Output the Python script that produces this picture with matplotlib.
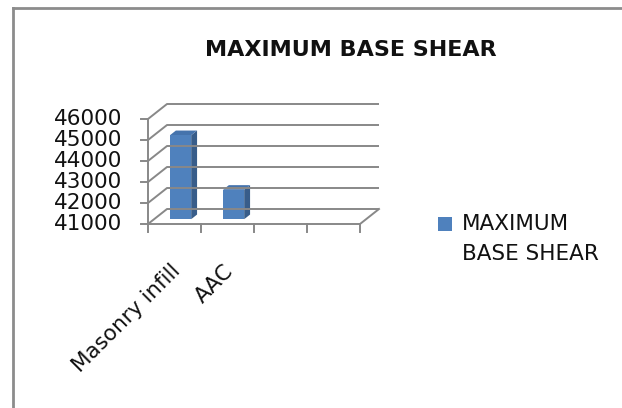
import matplotlib
matplotlib.use("Agg")
import matplotlib.pyplot as plt
from matplotlib.patches import Polygon, Rectangle
from matplotlib.lines import Line2D
import matplotlib.transforms as mtransforms

plt.rcParams['font.family'] = ['DejaVu Sans']

# chart data
categories = ["Masonry infill", "AAC"]
values = [45000, 42400]
series_name = "MAXIMUM BASE SHEAR"
y_ticks = [41000, 42000, 43000, 44000, 45000, 46000]
n_slots = 4

# colours
front_col = '#4F81BD'
side_col = '#385D8A'
top_col = '#4573AC'
grid_col = '#888888'
text_col = '#111111'

W, H = 622, 408
fig = plt.figure(figsize=(W / 100, H / 100), dpi=100)

# outer frame (left and top edges)
fig.add_artist(Line2D([13 / W, 13 / W], [0, 1 - 8 / H], color='#8c8c8c', lw=2))
fig.add_artist(Line2D([13 / W, 1], [1 - 8 / H, 1 - 8 / H], color='#8c8c8c', lw=2))

ax = fig.add_axes([148 / W, (H - 224) / H, 212 / W, 105 / H])
ax.set_xlim(-0.5, n_slots - 0.5)
ax.set_ylim(y_ticks[0], y_ticks[-1])
ax.axis('off')

# depth of the 3d box, in pixels, converted to data units
px_x = ax.bbox.width / (n_slots)
px_y = ax.bbox.height / (y_ticks[-1] - y_ticks[0])
DX = 19 / px_x
DY = 15 / px_y

x0, x1 = -0.5, n_slots - 0.5
lw = 1.4
# side and back wall gridlines
for t in y_ticks:
    ax.plot([x0, x0 + DX, x1 + DX], [t, t + DY, t + DY], color=grid_col, lw=lw,
            clip_on=False, solid_capstyle='butt')
# floor right edge
ax.plot([x1 + DX, x1], [y_ticks[0] + DY, y_ticks[0]], color=grid_col, lw=lw, clip_on=False)
# front axes
ax.plot([x0, x0], [y_ticks[0], y_ticks[-1]], color=grid_col, lw=lw, clip_on=False)
ax.plot([x0, x1], [y_ticks[0], y_ticks[0]], color=grid_col, lw=lw, clip_on=False)

# tick marks and labels
tick_x = 7 / px_x
tick_y = 8 / px_y
for t in y_ticks:
    ax.plot([x0 - tick_x, x0], [t, t], color=grid_col, lw=lw, clip_on=False)
    ax.text(x0 - 26 / px_x, t, f"{t}", ha='right', va='center', fontsize=15.5,
            color=text_col)
for k in range(n_slots + 1):
    xb = x0 + k
    ax.plot([xb, xb], [y_ticks[0] - tick_y, y_ticks[0]], color=grid_col, lw=lw, clip_on=False)

lab_off = mtransforms.ScaledTranslation(3 / 100, -44 / 100, fig.dpi_scale_trans)
for i, name in enumerate(categories):
    ax.text(i, y_ticks[0], name, rotation=45, ha='right', va='center',
            rotation_mode='anchor', fontsize=15.5, color=text_col,
            transform=ax.transData + lab_off)

# 3d columns
bw = 0.2
f1, f2 = 0.32, 0.63
base = y_ticks[0]
for i, v in enumerate(values):
    xl, xr = i - bw, i + bw
    front = Rectangle((xl + f1 * DX, base + f1 * DY), 2 * bw, v - base,
                      facecolor=front_col, edgecolor='none', clip_on=False)
    side = Polygon([(xr + f1 * DX, base + f1 * DY), (xr + f2 * DX, base + f2 * DY),
                    (xr + f2 * DX, v + f2 * DY), (xr + f1 * DX, v + f1 * DY)],
                   closed=True, facecolor=side_col, edgecolor='none', clip_on=False)
    top = Polygon([(xl + f1 * DX, v + f1 * DY), (xr + f1 * DX, v + f1 * DY),
                   (xr + f2 * DX, v + f2 * DY), (xl + f2 * DX, v + f2 * DY)],
                  closed=True, facecolor=top_col, edgecolor='none', clip_on=False)
    for p in (side, top, front):
        ax.add_patch(p)

# title
fig.text(351 / W, 1 - 50.5 / H, series_name, ha='center', va='center',
         fontsize=16, fontweight='bold', color=text_col)

# legend
fig.add_artist(Rectangle((438 / W, 1 - 231 / H), 14 / W, 14 / H,
                         facecolor=front_col, edgecolor='none'))
fig.text(462 / W, 1 - 223.5 / H, "MAXIMUM", ha='left', va='center', fontsize=15.5, color=text_col)
fig.text(462 / W, 1 - 254.5 / H, "BASE SHEAR", ha='left', va='center', fontsize=15.5, color=text_col)

fig.savefig("out.png", dpi=100)
